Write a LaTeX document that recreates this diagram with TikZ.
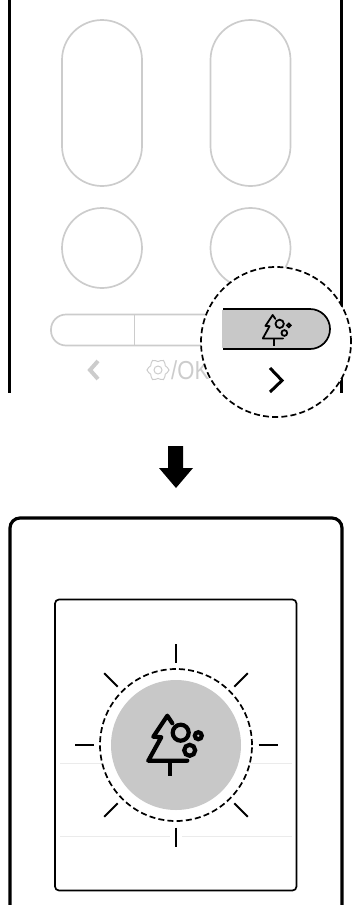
\documentclass[tikz,border=0pt]{standalone}
\usepackage{fontspec}
\usetikzlibrary{calc}
\setmainfont{Liberation Sans}
\definecolor{btngray}{HTML}{CCCCCC}
\definecolor{fillgray}{HTML}{C8C8C8}
\definecolor{faint}{HTML}{EBEBEB}
\tikzset{treeicon/.pic={
\draw[pic actions,line cap=round,line join=round] (5,7.5)--(0,0)--(-14,21)--(-6,21.5)--(-19,45)--(20,45);
\draw[pic actions,line cap=butt] (2.4,45)--(2.4,60);
\draw[pic actions] (13.4,17) circle[radius=8];
\draw[pic actions] (31,20) circle[radius=3.5];
\draw[pic actions] (22.4,34.6) circle[radius=5.5];
}}
\begin{document}
\begin{tikzpicture}[x=1pt,y=-1pt,
pillbtn/.style={draw=btngray,line width=1.7pt,rounded corners=40pt,minimum width=80pt,minimum height=166pt,inner sep=0pt,outer sep=0pt},
roundbtn/.style={draw=btngray,line width=1.7pt,circle,minimum size=80pt,inner sep=0pt,outer sep=0pt},
frame/.style={line width=3.2pt},
zoomring/.style={draw=black,fill=white,line width=1.7pt,dash pattern=on 6pt off 3.2pt},
ray/.style={line width=2pt},
chev/.style={line width=3pt,miter limit=10},
rule/.style={draw=faint,line width=1pt}]
\useasboundingbox (0,0) rectangle (351,905);
% remote
\draw[frame] (9.5,0)--(9.5,393);
\draw[frame] (341.5,0)--(341.5,393);
\node[pillbtn] (pillL) at (102,103) {};
\node[pillbtn] (pillR) at (250.5,103) {};
\node[roundbtn] (roundL) at (102,248) {};
\node[roundbtn] (roundR) at (250.5,248) {};
\draw[draw=btngray,line width=1.7pt,rounded corners=15pt] (260,314.5)--(51,314.5)--(51,345.5)--(260,345.5);
\draw[draw=btngray,line width=1.7pt] (134.5,314.5)--(134.5,345.5);
\draw[draw=btngray,line width=4pt,miter limit=10] (98,361)--(90,370)--(98,379);
\draw[draw=btngray,line width=1pt] plot[smooth cycle,domain=0:345,samples=24,variable=\a] ({158+(9.7+1.3*cos(6*\a))*cos(\a)},{370+(9.7+1.3*cos(6*\a))*sin(\a)});
\draw[draw=btngray,line width=1pt] (158,370) circle[radius=4];
\node[text=btngray,anchor=west,inner sep=0pt,transform shape,xscale=.85,font=\fontsize{26}{26}\selectfont] (oklabel) at (171,370) {/OK};
% zoomed key
\node[zoomring,circle,minimum size=150pt,inner sep=0pt] (ringkey) at (276,342) {};
\fill[fillgray,draw=black,line width=1.7pt,rounded corners=20pt] (223,309)--(330,309)--(330,349)--(223,349);
\fill[fillgray] (222,310)--(226,310)--(226,348)--(222,348)--cycle;
\draw[line width=1.7pt] (223,309)--(226,309);
\draw[line width=1.7pt] (223,349)--(226,349);
\pic[scale=.52,line width=1.8pt] (iconkey) at (272.7,315) {treeicon};
\draw[chev] (270,368)--(282,380.5)--(270,392);
% arrow
\fill (168,446)--(183,446)--(183,468)--(193,468)--(176,488)--(159,468)--(168,468)--cycle;
% display
\draw[frame,rounded corners=10pt] (10,906)--(10,518)--(342,518)--(342,906);
\draw[line width=1.7pt,rounded corners=4pt] (55,599.5) rectangle (296.5,890.5);
\draw[rule] (60,763.5)--(292,763.5);
\draw[rule] (60,836)--(170,836);
\draw[rule] (182,836)--(292,836);
\node[zoomring,circle,minimum size=152pt,inner sep=0pt] (ringlight) at (176,745) {};
\node[circle,fill=fillgray,minimum size=130pt,inner sep=0pt] (disc) at (176,745) {};
\foreach \a in {0,45,...,315}
\draw[ray] ($(disc.center)+(\a:82.5)$)--($(disc.center)+(\a:101.5)$);
\pic[line width=4.2pt] (iconlight) at (167.3,715.7) {treeicon};
\end{tikzpicture}
\end{document}
